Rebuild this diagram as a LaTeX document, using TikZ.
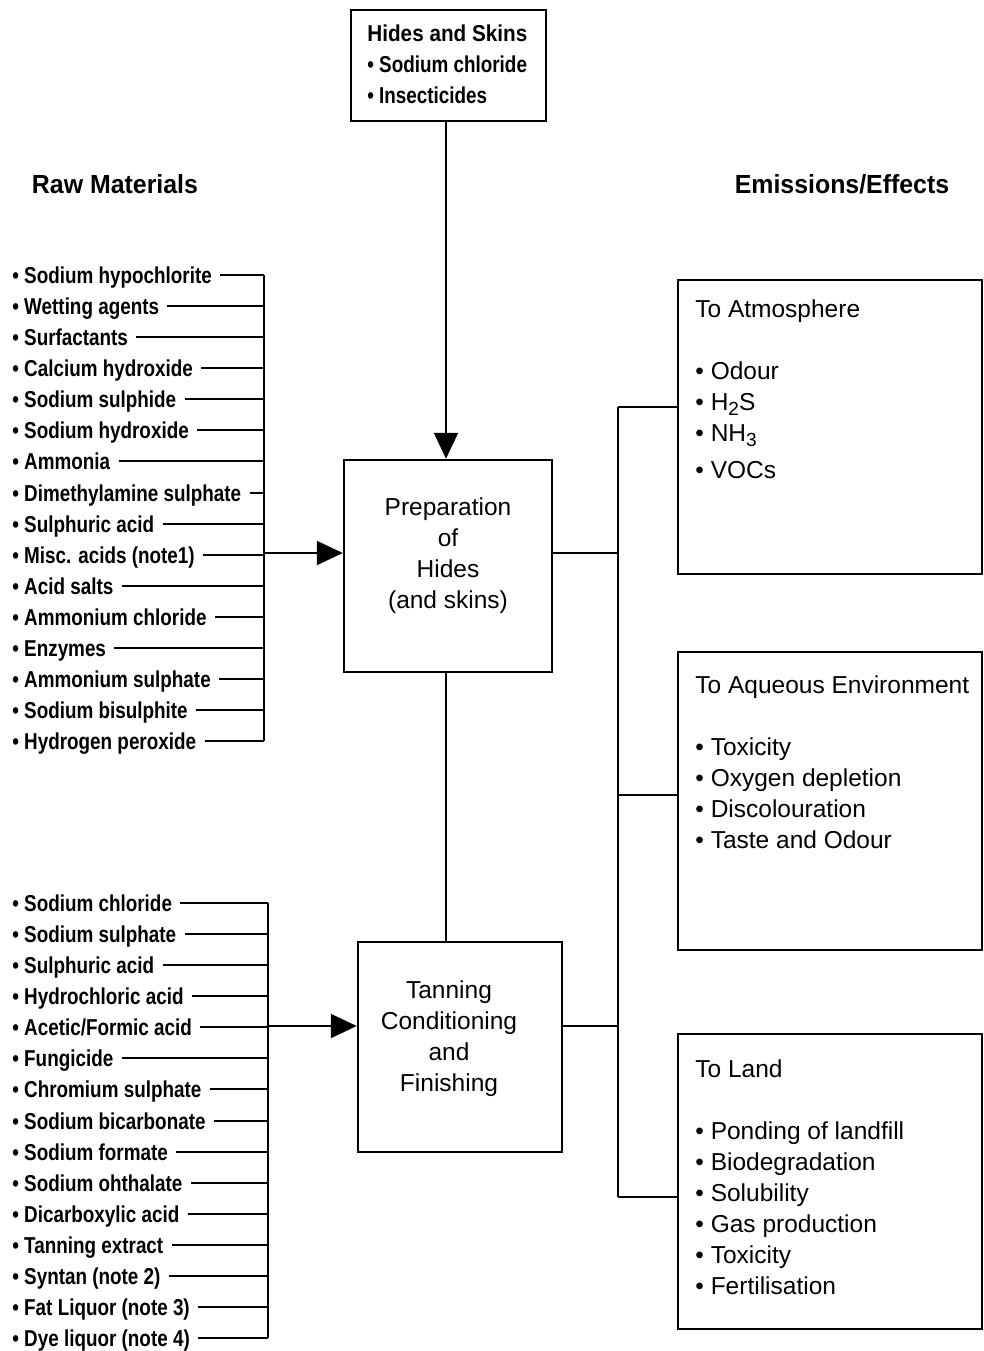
\documentclass[tikz,border=0pt]{standalone}
\usepackage{fontspec}
\setmainfont{Liberation Sans}
\newfontfamily\condsans[FakeStretch=0.82]{Liberation Sans}
\newfontfamily\titlesans[FakeStretch=0.9]{Liberation Sans}
\newfontfamily\headsans[FakeStretch=0.95]{Liberation Sans}
\usetikzlibrary{arrows.meta,calc}
\newcommand\chemsub[1]{\raisebox{-0.45ex}{\fontsize{9.5}{10}\selectfont #1}}
\begin{document}
\begin{tikzpicture}[x=0.5pt,y=-0.5pt,
  box/.style={draw,line width=1.2pt,inner sep=0pt},
  wire/.style={line width=1pt},
  arr/.style={line width=1pt,-{Triangle[length=13pt,width=12pt]}},
  item/.style={anchor=base west,inner sep=0pt,font=\condsans\bfseries\fontsize{11.5}{13}\selectfont},
  head/.style={inner sep=0pt,font=\headsans\bfseries\fontsize{13.1}{15}\selectfont},
  effect/.style={anchor=base west,inner sep=0pt,font=\fontsize{12.25}{14}\selectfont},
  stage/.style={inner sep=0pt,align=center,font=\fontsize{12.25}{15.5}\selectfont}]
\useasboundingbox (0,0) rectangle (984,1351);

% input hides box
\node[box,minimum width=97.5pt,minimum height=55.5pt] (hides) at (448.5,65.5) {};
\node[anchor=base west,inner sep=0pt,font=\titlesans\bfseries\fontsize{11.5}{13}\selectfont] (hidesT) at (367,41) {Hides and Skins};
\node[item] (hides1) at (367,72) {• Sodium chloride};
\node[item] (hides2) at (367,103) {• Insecticides};

% column headings
\node[head] (rawhead) at (115,184) {Raw Materials};
\node[head] (emhead) at (842,184) {Emissions/Effects};

% process stages
\node[box,minimum width=104pt,minimum height=106pt] (prep) at (448,566) {};
\node[stage] (prepT) at (448,556) {Preparation\\of\\Hides\\(and skins)};
\node[box,minimum width=102pt,minimum height=105pt] (tan) at (460,1047) {};
\node[stage] (tanT) at (449,1039) {Tanning\\Conditioning\\and\\Finishing};

\draw[arr] (hides.south -| 446,0) -- (prep.north -| 446,0);
\draw[wire] (prep.south -| 446,0) -- (tan.north -| 446,0);

% raw materials for preparation
\foreach \t [count=\i] in {Sodium hypochlorite,Wetting agents,Surfactants,Calcium hydroxide,Sodium sulphide,Sodium hydroxide,Ammonia,Dimethylamine sulphate,Sulphuric acid,Misc. acids (note1),Acid salts,Ammonium chloride,Enzymes,Ammonium sulphate,Sodium bisulphite,Hydrogen peroxide}{
  \pgfmathsetmacro\yy{275+(\i-1)*31.07}
  \node[item] (ra\i) at (12,\yy+8.5) {• \t};
  \draw[wire] ($(ra\i.base east)+(8,-8.5)$) -- (264,\yy);
}
\coordinate (busAtop) at (264,275);
\coordinate (busAbot) at (264,741);
\coordinate (busAin) at (264,553);
\draw[wire] (busAtop) -- (busAbot);
\draw[arr] (busAin) -- (busAin -| prep.west);

% raw materials for tanning
\foreach \t [count=\i] in {Sodium chloride,Sodium sulphate,Sulphuric acid,Hydrochloric acid,Acetic/Formic acid,Fungicide,Chromium sulphate,Sodium bicarbonate,Sodium formate,Sodium ohthalate,Dicarboxylic acid,Tanning extract,Syntan (note 2),Fat Liquor (note 3),Dye liquor (note 4)}{
  \pgfmathsetmacro\yy{903+(\i-1)*31.07}
  \node[item] (rb\i) at (12,\yy+8.5) {• \t};
  \draw[wire] ($(rb\i.base east)+(8,-8.5)$) -- (268,\yy);
}
\coordinate (busBtop) at (268,903);
\coordinate (busBbot) at (268,1338);
\coordinate (busBin) at (268,1026);
\draw[wire] (busBtop) -- (busBbot);
\draw[arr] (busBin) -- (busBin -| tan.west);

% emission boxes
\node[box,minimum width=152pt,minimum height=147pt] (atm) at (830,427) {};
\node[box,minimum width=152pt,minimum height=149pt] (aq) at (830,801) {};
\node[box,minimum width=152pt,minimum height=147.5pt] (land) at (830,1181.5) {};

\node[effect] (atmT) at (695,317) {To Atmosphere};
\node[effect] (atm1) at (695,379) {• Odour};
\node[effect] (atm2) at (695,410) {• H\chemsub{2}S};
\node[effect] (atm3) at (695,441) {• NH\chemsub{3}};
\node[effect] (atm4) at (695,478) {• VOCs};

\node[effect] (aqT) at (695,693) {To Aqueous Environment};
\node[effect] (aq1) at (695,755) {• Toxicity};
\node[effect] (aq2) at (695,786) {• Oxygen depletion};
\node[effect] (aq3) at (695,817) {• Discolouration};
\node[effect] (aq4) at (695,848) {• Taste and Odour};

\node[effect] (landT) at (695,1077) {To Land};
\node[effect] (land1) at (695,1139) {• Ponding of landfill};
\node[effect] (land2) at (695,1170) {• Biodegradation};
\node[effect] (land3) at (695,1201) {• Solubility};
\node[effect] (land4) at (695,1232) {• Gas production};
\node[effect] (land5) at (695,1263) {• Toxicity};
\node[effect] (land6) at (695,1294) {• Fertilisation};

% output bus
\coordinate (busCtop) at (618,407);
\coordinate (busCbot) at (618,1197);
\draw[wire] (busCtop) -- (busCbot);
\draw[wire] (prep.east |- 0,553) -- (618,553);
\draw[wire] (tan.east |- 0,1026) -- (618,1026);
\draw[wire] (busCtop) -- (busCtop -| atm.west);
\draw[wire] (618,795) -- (aq.west |- 0,795);
\draw[wire] (busCbot) -- (busCbot -| land.west);
\end{tikzpicture}
\end{document}
